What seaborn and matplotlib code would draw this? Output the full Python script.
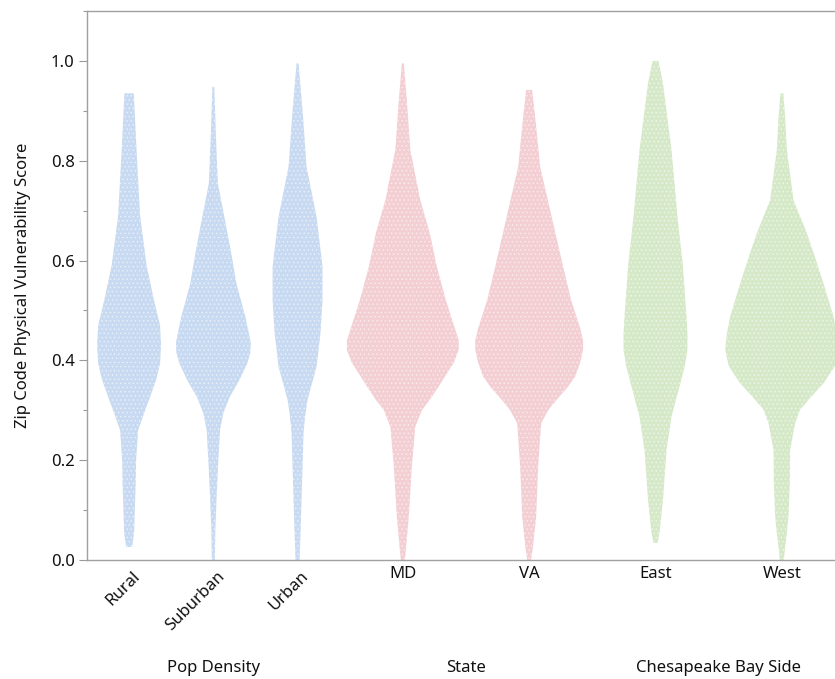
import numpy as np
import matplotlib
matplotlib.use("Agg")
import matplotlib.pyplot as plt
import matplotlib.transforms as mtransforms
from matplotlib.ticker import MultipleLocator
import seaborn as sns

# --- categories and grouping -------------------------------------------------
groups = ["Pop Density", "State", "Chesapeake Bay Side"]
group_members = [["Rural", "Suburban", "Urban"], ["MD", "VA"], ["East", "West"]]
group_colors = ["#c8daf1", "#f3cfd4", "#d5e9c8"]

# --- density profiles (score level, relative spread of zip codes) -----------
rural_y = [0.026, 0.054, 0.15, 0.20, 0.26, 0.294, 0.327, 0.36, 0.394, 0.43, 0.47, 0.52, 0.59, 0.69, 0.82, 0.935]
rural_d = [3, 5, 6.5, 7, 9, 15, 21, 27, 31, 32, 31, 25, 17.5, 11, 7.5, 4.7]

suburban_y = [0.0, 0.06, 0.127, 0.20, 0.26, 0.294, 0.327, 0.36, 0.394, 0.415, 0.435, 0.46, 0.488, 0.555, 0.62, 0.688, 0.755, 0.855, 0.948]
suburban_d = [1.5, 2, 3.3, 5, 6.7, 10, 16.5, 26, 34, 37, 37.5, 35, 32, 23, 17.5, 11, 4.5, 2.5, 1]

urban_y = [0.0, 0.054, 0.154, 0.254, 0.287, 0.321, 0.387, 0.455, 0.521, 0.588, 0.688, 0.788, 0.888, 0.995]
urban_d = [2, 3, 4.5, 6, 7.5, 10, 19, 23, 25, 25, 19, 9, 5.5, 1]

md_y = [0.0, 0.02, 0.087, 0.187, 0.267, 0.30, 0.321, 0.345, 0.367, 0.395, 0.421, 0.44, 0.465, 0.521, 0.588, 0.655, 0.721, 0.822, 0.922, 0.995]
md_d = [2, 3, 6, 9, 12.5, 19, 27, 35, 42, 51, 56, 56, 52, 43, 34, 27, 17.5, 7.5, 4, 1]

va_y = [0.0, 0.03, 0.087, 0.187, 0.274, 0.30, 0.321, 0.345, 0.367, 0.395, 0.421, 0.44, 0.465, 0.521, 0.588, 0.688, 0.788, 0.888, 0.942]
va_d = [2, 4, 7, 9, 12, 19, 27.5, 38, 46, 51, 54, 54, 51, 42, 34, 22.5, 11, 6, 3]

east_y = [0.034, 0.054, 0.12, 0.22, 0.287, 0.355, 0.39, 0.421, 0.455, 0.488, 0.588, 0.688, 0.822, 0.955, 1.0]
east_d = [2, 4, 7.5, 11, 16, 25, 29.5, 32, 32, 31, 27.5, 22, 16, 7.5, 3]

west_y = [0.0, 0.02, 0.054, 0.087, 0.154, 0.22, 0.274, 0.301, 0.321, 0.354, 0.388, 0.421, 0.454, 0.488, 0.554, 0.608, 0.655, 0.721, 0.822, 0.888, 0.935]
west_d = [2, 3, 5, 6.7, 8, 8.3, 13.3, 18.3, 26.7, 41.7, 53, 56.7, 55, 51.7, 41.7, 33, 25, 11.7, 5, 3.3, 1.5]

profiles = {
    "Rural": (rural_y, rural_d), "Suburban": (suburban_y, suburban_d), "Urban": (urban_y, urban_d),
    "MD": (md_y, md_d), "VA": (va_y, va_d),
    "East": (east_y, east_d), "West": (west_y, west_d),
}

y_ticks = [0.0, 0.2, 0.4, 0.6, 0.8, 1.0]

# --- styling ----------------------------------------------------------------
sns.set_style("ticks")
plt.rcParams["font.family"] = ["Noto Sans", "DejaVu Sans"]
plt.rcParams["hatch.linewidth"] = 0.6

TEXT = "#111111"
W, H = 835, 679
fig = plt.figure(figsize=(W / 100, H / 100), dpi=100)
ax = fig.add_axes([87 / W, 1 - 560 / H, (845 - 87) / W, (560 - 11) / H])

width_scale = 1 / 253.0  # density units -> x data units (one group spans 1.0)

positions = {}
colors = {}
for gi, members in enumerate(group_members):
    n = len(members)
    for mi, name in enumerate(members):
        positions[name] = gi + (mi + 0.5) / n
        colors[name] = group_colors[gi]

for name, (ys, ds) in profiles.items():
    ys = np.asarray(ys)
    half = np.asarray(ds) * width_scale
    x0 = positions[name]
    ax.fill_betweenx(ys, x0 - half, x0 + half, facecolor=colors[name],
                     edgecolor="none", linewidth=0, zorder=2)
    ax.fill_betweenx(ys, x0 - half, x0 + half, facecolor="none",
                     edgecolor="white", hatch="....", linewidth=0,
                     alpha=0.5, zorder=3)

ax.set_xlim(0, 3)
ax.set_ylim(0, 1.1)
ax.yaxis.set_major_locator(MultipleLocator(0.2))
ax.yaxis.set_minor_locator(MultipleLocator(0.1))
ax.set_yticks(y_ticks)
ax.set_yticklabels([f"{t:.1f}" for t in y_ticks], fontsize=12, color=TEXT)
ax.tick_params(axis="y", which="major", length=6, width=0.8, color="#9a9a9a", pad=3)
ax.tick_params(axis="y", which="minor", length=3, width=0.8, color="#9a9a9a")
ax.set_ylabel("Zip Code Physical Vulnerability Score", fontsize=12, color=TEXT, labelpad=14)

ax.set_xticks([])
for side in ["left", "bottom", "top"]:
    ax.spines[side].set_color("#a0a0a0")
    ax.spines[side].set_linewidth(1.0)
ax.spines["right"].set_visible(False)

xt = mtransforms.blended_transform_factory(ax.transData, ax.transAxes)
for gi, members in enumerate(group_members):
    for name in members:
        x0 = positions[name]
        if gi == 0:
            off = mtransforms.ScaledTranslation(3 / 100, -8 / 100, fig.dpi_scale_trans)
            ax.text(x0, 0, name, transform=xt + off, rotation=45, rotation_mode="anchor",
                    ha="right", va="top", fontsize=12, color=TEXT)
        else:
            off = mtransforms.ScaledTranslation(0, -6 / 100, fig.dpi_scale_trans)
            ax.text(x0, 0, name, transform=xt + off, ha="center", va="top",
                    fontsize=12, color=TEXT)
    ax.text(gi + 0.5, -0.197, groups[gi], transform=xt, ha="center", va="center",
            fontsize=12, color=TEXT)

fig.savefig("out.png", dpi=100)
